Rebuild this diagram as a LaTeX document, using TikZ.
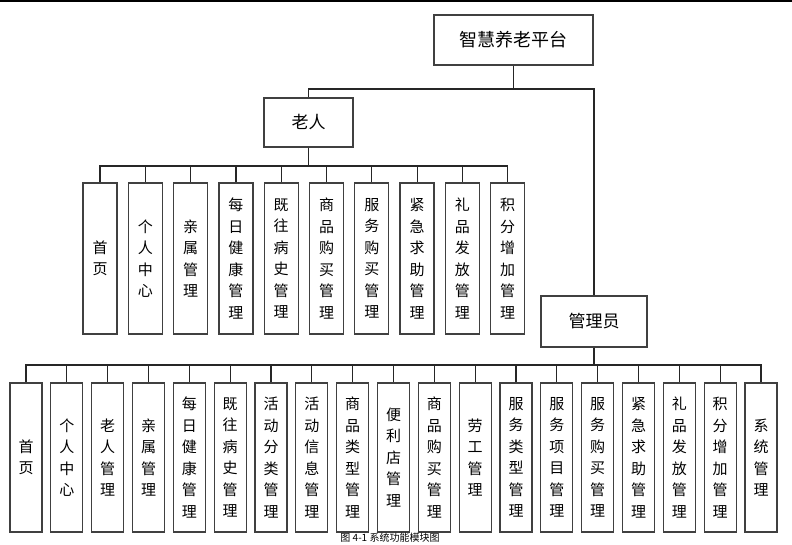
\documentclass[tikz,border=0pt]{standalone}
\usepackage{fontspec}
\setmainfont{Noto Sans CJK SC}
\begin{document}
\begin{tikzpicture}[
    x=1pt, y=-1pt,
    topbox/.style={
        rectangle,
        draw=black!75,
        line width=1.3pt,
        align=center,
        inner sep=0pt,
        font=\fontsize{17}{20}\selectfont
    },
    leaf/.style={
        rectangle,
        draw=black!75,
        line width=1.3pt,
        minimum width=34pt,
        minimum height=151pt,
        align=center,
        inner sep=0pt,
        font=\fontsize{15}{21.5}\selectfont
    },
    leafb/.style={
        leaf,
        minimum width=32pt,
        minimum height=149pt
    },
    link/.style={
        draw=black!85,
        line width=1.2pt
    }
]
\useasboundingbox (0,0) rectangle (792,544);

% Linea superiore
\draw[line width=2pt] (0,1) -- (792,1);

% Radice
\node[topbox, minimum width=159pt, minimum height=50pt, font=\fontsize{18}{20}\selectfont] (root) at (513.5,40) {智慧养老平台};

% Ruoli
\node[topbox, minimum width=89pt, minimum height=49pt] (laoren) at (308.5,122.5) {老人};
\node[topbox, minimum width=106pt, minimum height=51pt] (admin) at (594,321.5) {管理员};

% Punti di diramazione
\coordinate (bar0) at (513.5,89);
\coordinate (bar1) at (308.5,166);
\coordinate (bar2) at (594,365);

% Moduli del ruolo anziano
\node[leaf] (e1) at (100,258.5) {首\\页};
\node[leaf] (e2) at (145.3,258.5) {个\\人\\中\\心};
\node[leaf] (e3) at (190.6,258.5) {亲\\属\\管\\理};
\node[leaf] (e4) at (235.9,258.5) {每\\日\\健\\康\\管\\理};
\node[leaf] (e5) at (281.2,258.5) {既\\往\\病\\史\\管\\理};
\node[leaf] (e6) at (326.5,258.5) {商\\品\\购\\买\\管\\理};
\node[leaf] (e7) at (371.8,258.5) {服\\务\\购\\买\\管\\理};
\node[leaf] (e8) at (417.1,258.5) {紧\\急\\求\\助\\管\\理};
\node[leaf] (e9) at (462.4,258.5) {礼\\品\\发\\放\\管\\理};
\node[leaf] (e10) at (507.7,258.5) {积\\分\\增\\加\\管\\理};

% Moduli dell'amministratore
\node[leafb] (a1) at (26,457.5) {首\\页};
\node[leafb] (a2) at (66.8,457.5) {个\\人\\中\\心};
\node[leafb] (a3) at (107.7,457.5) {老\\人\\管\\理};
\node[leafb] (a4) at (148.5,457.5) {亲\\属\\管\\理};
\node[leafb] (a5) at (189.3,457.5) {每\\日\\健\\康\\管\\理};
\node[leafb] (a6) at (230.2,457.5) {既\\往\\病\\史\\管\\理};
\node[leafb] (a7) at (271,457.5) {活\\动\\分\\类\\管\\理};
\node[leafb] (a8) at (311.8,457.5) {活\\动\\信\\息\\管\\理};
\node[leafb] (a9) at (352.7,457.5) {商\\品\\类\\型\\管\\理};
\node[leafb] (a10) at (393.5,457.5) {便\\利\\店\\管\\理};
\node[leafb] (a11) at (434.3,457.5) {商\\品\\购\\买\\管\\理};
\node[leafb] (a12) at (475.2,457.5) {劳\\工\\管\\理};
\node[leafb] (a13) at (516,457.5) {服\\务\\类\\型\\管\\理};
\node[leafb] (a14) at (556.8,457.5) {服\\务\\项\\目\\管\\理};
\node[leafb] (a15) at (597.7,457.5) {服\\务\\购\\买\\管\\理};
\node[leafb] (a16) at (638.5,457.5) {紧\\急\\求\\助\\管\\理};
\node[leafb] (a17) at (679.3,457.5) {礼\\品\\发\\放\\管\\理};
\node[leafb] (a18) at (720.2,457.5) {积\\分\\增\\加\\管\\理};
\node[leafb] (a19) at (761,457.5) {系\\统\\管\\理};

% Collegamenti
\draw[link] (root.south) -- (bar0);
\draw[link] (bar0) -| (laoren.north);
\draw[link] (bar0) -| (admin.north);
\draw[link, line width=1.8pt] (laoren.south) -- (bar1);
\draw[link, line width=1.8pt] (admin.south) -- (bar2);
\foreach \i in {1,...,10}
    \draw[link] (bar1) -| (e\i.north);
\foreach \i in {1,...,19}
    \draw[link] (bar2) -| (a\i.north);

% Didascalia
\node[anchor=south, font=\fontsize{10}{11}\selectfont, inner sep=0pt] (caption) at (390,543) {图 4-1 系统功能模块图};

\end{tikzpicture}
\end{document}
